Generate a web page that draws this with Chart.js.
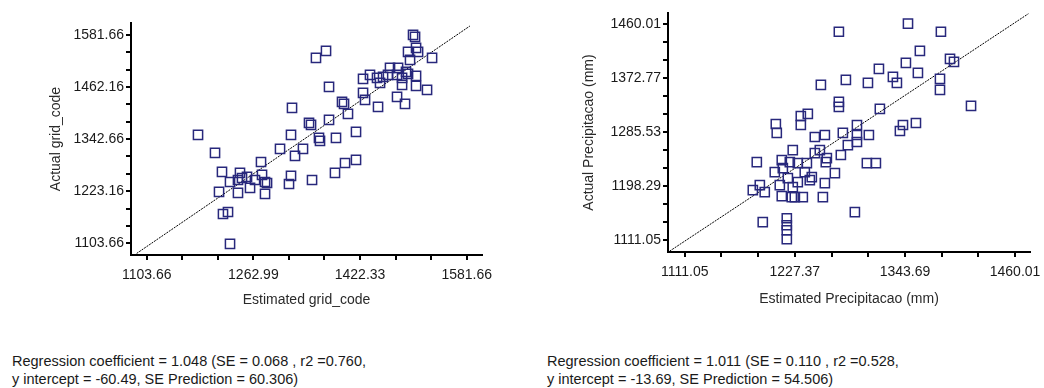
<!DOCTYPE html>
<html>
<head>
<meta charset="utf-8">
<script src="https://cdn.jsdelivr.net/npm/chart.js@4.4.1/dist/chart.umd.min.js"></script>
<style>
  html, body { margin: 0; padding: 0; background: #fff; }
  body { font-family: "Liberation Sans", Arial, sans-serif; }
  canvas { position: absolute; }
  .axisbar { position: absolute; background: #000; }
  .stats { position: absolute; top: 352px; font-size: 14.5px; line-height: 18px;
           color: #1a1a1a; white-space: nowrap; }
</style>
</head>
<body>
<canvas id="gridChart" width="520" height="330" style="left:0;top:0"></canvas>
<canvas id="precChart" width="524" height="330" style="left:520px;top:0"></canvas>
<div class="stats" id="statsL" style="left:12px"></div>
<div class="stats" id="statsR" style="left:547px"></div>
<script>
// ---- grid_code cross-validation ----
const gridEstimated = [
  1180.3, 1205.7, 1216.1, 1211.7, 1217.6, 1225.1, 1228.1, 1228.1, 1243.0, 1246.0,
  1253.5, 1240.0, 1258.0, 1265.4, 1274.4, 1275.9, 1280.4, 1283.4, 1280.4, 1302.8,
  1319.2, 1325.2, 1337.1, 1319.2, 1316.2, 1350.6, 1346.1, 1349.1, 1361.0, 1362.5,
  1386.4, 1416.3, 1384.9, 1399.9, 1416.3, 1320.7, 1356.5, 1371.5, 1376.0, 1376.0,
  1395.4, 1398.4, 1404.3, 1426.8, 1429.8, 1449.2, 1477.6, 1489.5, 1426.8, 1437.2,
  1447.7, 1456.7, 1464.1, 1452.2, 1467.1, 1479.1, 1477.6, 1485.1, 1491.0, 1494.0,
  1506.0, 1485.1, 1506.0, 1522.4, 1501.5, 1504.5, 1494.0, 1506.0, 1509.0, 1497.0,
  1529.9, 1240.0
];
const gridActual = [
  1352.2, 1310.9, 1267.3, 1221.4, 1170.9, 1175.5, 1102.1, 1244.3, 1265.0, 1253.5,
  1255.8, 1219.1, 1230.6, 1248.9, 1290.2, 1260.4, 1244.3, 1242.0, 1216.8, 1320.1,
  1352.2, 1304.0, 1320.1, 1258.1, 1239.7, 1248.9, 1379.7, 1375.1, 1345.3, 1338.4,
  1345.3, 1359.1, 1265.0, 1287.9, 1294.8, 1414.2, 1528.9, 1545.0, 1462.3, 1386.6,
  1427.9, 1423.3, 1400.4, 1448.6, 1432.5, 1416.4, 1439.4, 1423.3, 1480.7, 1489.9,
  1483.0, 1485.3, 1489.9, 1471.5, 1505.9, 1505.9, 1489.9, 1483.0, 1496.8, 1492.2,
  1487.6, 1466.9, 1464.7, 1455.5, 1581.7, 1577.1, 1542.7, 1551.8, 1542.7, 1524.3,
  1528.9, 1248.9
];
const gridXTickLabels = ['1103.66', '1262.99', '1422.33', '1581.66'];
const gridYTickLabels = ['1103.66', '1223.16', '1342.66', '1462.16', '1581.66'];
const gridXRange = [1080.2, 1604.5];
const gridYRange = [1076.8, 1609.0];
const gridLineX = [1088.7, 1586.4];
const gridSlope = 1.048, gridSlopeSE = 0.068, gridR2 = 0.760;
const gridIntercept = -60.49, gridSEPred = 60.306;

// ---- Precipitacao cross-validation ----
const precEstimated = [
  1273.9, 1346.9, 1381.7, 1359.5, 1391.3, 1395.5, 1316.2, 1344.7, 1357.4, 1331.0,
  1335.2, 1281.3, 1304.6, 1254.9, 1380.7, 1380.7, 1273.9, 1273.9, 1317.2, 1413.5,
  1241.1, 1233.7, 1233.7, 1207.3, 1208.3, 1355.3, 1341.6, 1338.4, 1293.0, 1293.0,
  1293.0, 1278.1, 1259.1, 1248.5, 1305.6, 1283.4, 1225.2, 1253.8, 1276.0, 1303.5,
  1313.0, 1187.2, 1213.6, 1214.7, 1222.1, 1230.5, 1206.2, 1240.1, 1237.9, 1248.5,
  1260.1, 1269.7, 1190.4, 1183.0, 1195.6, 1211.5, 1220.0, 1230.5, 1225.2, 1243.2,
  1245.3, 1259.1, 1213.6, 1224.2, 1227.4, 1235.8, 1257.0, 1290.8, 1193.5, 1218.9,
  1218.9, 1218.9, 1218.9, 1261.2
];
const precActual = [
  1447.5, 1460.5, 1447.5, 1416.8, 1403.9, 1399.0, 1387.7, 1397.4, 1381.2, 1374.8,
  1365.0, 1369.9, 1365.0, 1361.8, 1371.5, 1353.7, 1334.3, 1326.2, 1323.0, 1327.8,
  1314.9, 1311.6, 1297.1, 1298.7, 1284.2, 1300.3, 1297.1, 1287.4, 1297.1, 1280.9,
  1269.6, 1284.2, 1280.9, 1277.7, 1280.9, 1264.7, 1256.6, 1256.6, 1248.6, 1235.6,
  1235.6, 1237.2, 1240.5, 1227.5, 1237.2, 1235.6, 1221.1, 1235.6, 1221.1, 1251.8,
  1237.2, 1219.4, 1200.0, 1191.9, 1188.7, 1200.0, 1211.4, 1204.9, 1196.8, 1208.1,
  1213.0, 1203.3, 1182.2, 1180.6, 1180.6, 1180.6, 1180.6, 1156.3, 1140.2, 1146.6,
  1135.3, 1127.2, 1112.7, 1243.7
];
const precXTickLabels = ['1111.05', '1227.37', '1343.69', '1460.01'];
const precYTickLabels = ['1111.05', '1198.29', '1285.53', '1372.77', '1460.01'];
const precXRange = [1093.4, 1475.8];
const precYRange = [1092.1, 1477.8];
const precLineX = [1095.2, 1474.1];
const precSlope = 1.011, precSlopeSE = 0.110, precR2 = 0.528;
const precIntercept = -13.69, precSEPred = 54.506;

const AXIS_COLOR = 'black';
const MARK = '#28287c';
const TICK_LEN = 5;

// Labelled ticks with two unlabelled ticks between each pair.
function tickSet(labels) {
  const vals = labels.map(Number);
  const out = [];
  for (let i = 0; i < vals.length; i++) {
    out.push({ value: vals[i], label: labels[i] });
    if (i < vals.length - 1) {
      const step = (vals[i + 1] - vals[i]) / 3;
      out.push({ value: vals[i] + step, label: '' });
      out.push({ value: vals[i] + 2 * step, label: '' });
    }
  }
  return out;
}

// Axis lines and outward tick marks laid over the canvas, placed from the chart's scales.
function axisFrame(chart, ox, oy) {
  const sx = chart.scales.x, sy = chart.scales.y;
  const left = sy.right, top = sy.top, bottom = sx.top, right = sx.right;
  const bar = (x, y, w, h) => {
    const d = document.createElement('div');
    d.className = 'axisbar';
    d.style.left = (ox + x) + 'px';
    d.style.top = (oy + y) + 'px';
    d.style.width = w + 'px';
    d.style.height = h + 'px';
    document.body.appendChild(d);
  };
  bar(Math.round(left) - 1, Math.round(top), 2, Math.round(bottom - top) + 1);
  bar(Math.round(left) - 1, Math.round(bottom) - 1, Math.round(right - left) + 1, 2);
  sx.ticks.forEach(t => {
    const p = Math.round(sx.getPixelForValue(t.value));
    bar(p - 1, Math.round(bottom), 2, TICK_LEN);
  });
  sy.ticks.forEach(t => {
    const p = Math.round(sy.getPixelForValue(t.value));
    bar(Math.round(left) - TICK_LEN, p - 1, TICK_LEN, 2);
  });
}

function build(id, ox, oy, est, act, lineX, slope, intercept, xr, yr, xl, yl, xt, yt, pad, ySize, xSize) {
  function axis(range, labels, title, size, horizontal) {
    const ticks = tickSet(labels);
    return {
      type: 'linear', min: range[0], max: range[1], bounds: 'data',
      border: { display: true, color: AXIS_COLOR, width: 2 },
      grid: { display: true, drawOnChartArea: false, drawTicks: true, tickLength: TICK_LEN,
              color: AXIS_COLOR, lineWidth: 2 },
      ticks: { autoSkip: false, maxRotation: 0, padding: horizontal ? 7 : 2, color: '#1a1a1a',
               font: { family: 'Liberation Sans', size: 14 },
               callback: (v, i) => ticks[i] ? ticks[i].label : '' },
      title: { display: true, text: title, color: '#2a2a2a',
               font: { family: 'Liberation Sans', size: 14 } },
      afterBuildTicks: s => { s.ticks = ticks.map(t => ({ value: t.value })); },
      afterFit: s => {
        if (horizontal) { s.height = size; s.paddingLeft = 0; s.paddingRight = 0; }
        else { s.width = size; s.paddingTop = 0; s.paddingBottom = 0; }
      }
    };
  }
  const ds = [
    { type: 'scatter', data: est.map((x, i) => ({ x: x, y: act[i] })), pointStyle: 'rect',
      pointRadius: 6.5, pointBorderWidth: 1.5, borderColor: MARK, backgroundColor: 'rgba(0,0,0,0)' },
    { type: 'line', data: lineX.map(x => ({ x: x, y: slope * x + intercept })),
      borderColor: '#000', borderWidth: 1, borderDash: [2, 1], pointRadius: 0, fill: false }
  ];
  const chart = new Chart(document.getElementById(id), {
    type: 'scatter',
    data: { datasets: ds },
    options: {
      responsive: false, animation: false, events: [],
      layout: { padding: pad },
      plugins: { legend: { display: false }, tooltip: { enabled: false } },
      scales: { x: axis(xr, xl, xt, xSize, true), y: axis(yr, yl, yt, ySize, false) }
    }
  });
  axisFrame(chart, ox, oy);
  return chart;
}

build('gridChart', 0, 0, gridEstimated, gridActual, gridLineX, gridSlope, gridIntercept,
  gridXRange, gridYRange, gridXTickLabels, gridYTickLabels,
  'Estimated grid_code', 'Actual grid_code',
  { left: 44, top: 23, right: 38, bottom: 17 }, 87, 58);

build('precChart', 520, 0, precEstimated, precActual, precLineX, precSlope, precIntercept,
  precXRange, precYRange, precXTickLabels, precYTickLabels,
  'Estimated Precipitacao (mm)', 'Actual Precipitacao (mm)',
  { left: 57, top: 13, right: 14, bottom: 18 }, 91, 60);

function statsText(b, se, r2, a, sep) {
  return 'Regression coefficient = ' + b.toFixed(3) + ' (SE = ' + se.toFixed(3) +
    ' , r2 =' + r2.toFixed(3) + ',<br>y intercept = ' + a.toFixed(2) +
    ', SE Prediction = ' + sep.toFixed(3) + ')';
}
document.getElementById('statsL').innerHTML =
  statsText(gridSlope, gridSlopeSE, gridR2, gridIntercept, gridSEPred);
document.getElementById('statsR').innerHTML =
  statsText(precSlope, precSlopeSE, precR2, precIntercept, precSEPred);
</script>
</body>
</html>
